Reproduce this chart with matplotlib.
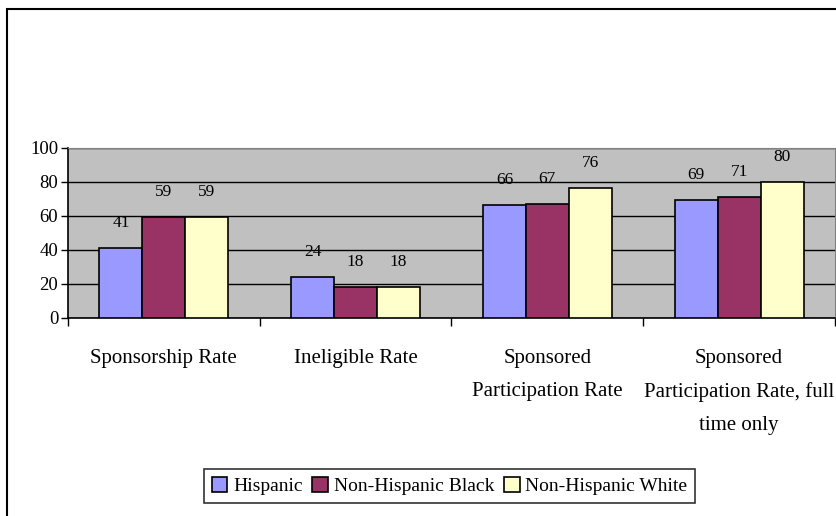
import matplotlib.pyplot as plt
import matplotlib.patches as mpatches
import numpy as np

categories = ["Sponsorship Rate", "Ineligible Rate", "Sponsored\nParticipation Rate",
              "Sponsored\nParticipation Rate, full\ntime only"]
series = ["Hispanic", "Non-Hispanic Black", "Non-Hispanic White"]
hispanic = [41, 24, 66, 69]
black = [59, 18, 67, 71]
white = [59, 18, 76, 80]
colors = ["#9999FF", "#993366", "#FFFFCC"]

plt.rcParams['font.family'] = ['Liberation Serif', 'DejaVu Serif']

fig = plt.figure(figsize=(8.37, 5.16), dpi=100)
ax = fig.add_axes([68 / 837, 1 - 318 / 516, (835 - 68) / 837, (318 - 147.5) / 516])
ax.set_facecolor("#C0C0C0")

# outer chart border (right and bottom fall outside the picture)
fig.patches.append(mpatches.Rectangle((7.5 / 837, -0.2), 1.2, 1.2 - 8.5 / 516,
                                      transform=fig.transFigure, fill=False,
                                      edgecolor="black", linewidth=1.5))

x = np.arange(len(categories))
bar_width = 0.224
for i, (vals, col, name) in enumerate(zip([hispanic, black, white], colors, series)):
    pos = x + (i - 1) * bar_width
    ax.bar(pos, vals, width=bar_width, color=col, edgecolor="black",
           linewidth=1.2, label=name, zorder=3)
    for p, v in zip(pos, vals):
        ax.annotate(str(v), (p, v), xytext=(0, 18), textcoords="offset points",
                    ha="center", va="center", fontsize=12.5)

ax.set_xlim(-0.5, len(categories) - 0.5)
ax.set_ylim(0, 100)
ax.set_yticks(range(0, 101, 20))
ax.yaxis.grid(True, color="black", linewidth=1.0, zorder=1)
ax.set_axisbelow(True)
ax.tick_params(axis="y", labelsize=13.5, length=5, width=1, direction="out", pad=2)

ax.set_xticks(np.arange(len(categories) + 1) - 0.5)
ax.set_xticklabels([])
ax.set_xticks(x, minor=True)
ax.set_xticklabels(categories, minor=True, fontsize=15, linespacing=2.0)
ax.tick_params(axis="x", which="major", length=6, width=1, direction="out")
ax.tick_params(axis="x", which="minor", length=0, pad=22)

for s in ["top", "right"]:
    ax.spines[s].set_color("#808080")
for s in ["left", "bottom"]:
    ax.spines[s].set_color("black")
    ax.spines[s].set_linewidth(1.2)

leg = fig.legend(loc="center", bbox_to_anchor=(449.5 / 837, 1 - 486 / 516), ncol=3,
                 fontsize=14, frameon=True, fancybox=False, shadow=False,
                 edgecolor="black", handlelength=0.8, handleheight=0.8,
                 handletextpad=0.3, columnspacing=0.5, borderpad=0.4)
leg.get_frame().set_linewidth(1.2)

fig.savefig("out.png", dpi=100)
